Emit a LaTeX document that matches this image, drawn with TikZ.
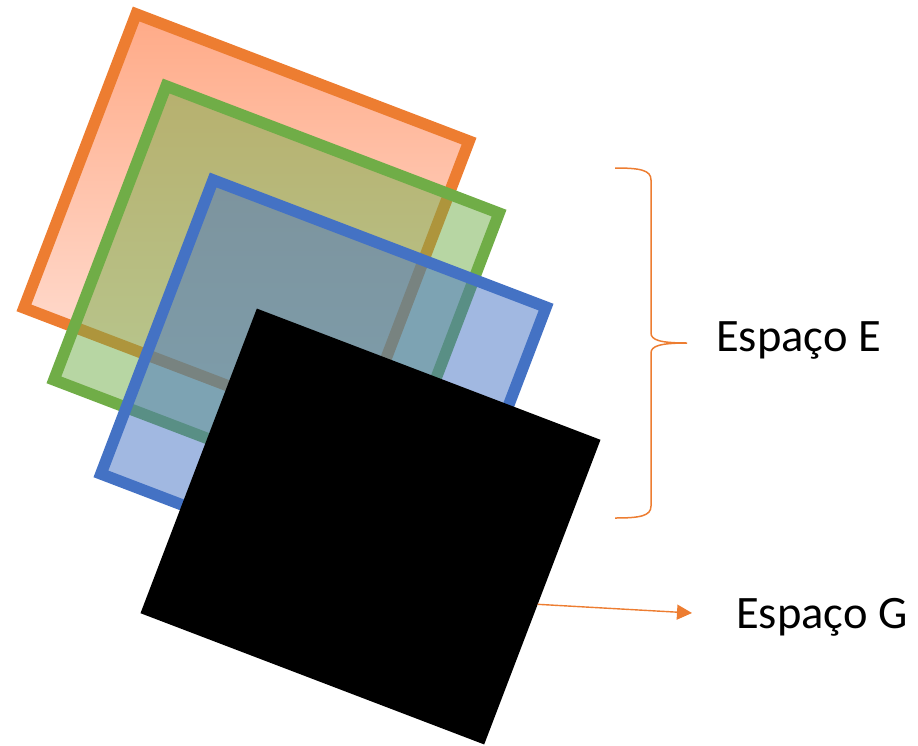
\documentclass[tikz,border=0pt]{standalone}
\usepackage{fontspec}
\setmainfont{Carlito}
\usetikzlibrary{arrows.meta,calc}

\definecolor{acOrange}{HTML}{ED7D31}
\definecolor{acGreen}{HTML}{70AD47}
\definecolor{acBlue}{HTML}{4472C4}
\definecolor{orFillTop}{RGB}{255,170,135}
\definecolor{orFillBot}{RGB}{255,232,225}

\begin{document}
\begin{tikzpicture}[x=1pt, y=-1pt,
  sheet/.style={rectangle, inner sep=0pt, outer sep=0.5\pgflinewidth,
    minimum width=356.4pt, minimum height=314.6pt,
    rotate=-20.9, line width=11.5pt, line join=miter},
  bracestroke/.style={draw=acOrange, line width=1.5pt},
  conn/.style={draw=acOrange, line width=1.4pt,
    -{Triangle[length=15pt, width=15pt]}},
  spacelabel/.style={anchor=base west, inner sep=0pt,
    font=\fontsize{46.5}{56}\selectfont}]
\useasboundingbox (0,0) rectangle (918,745);

% stacked sheets of space E, then the opaque sheet G on top
\node[sheet, draw=acOrange, top color=orFillTop, bottom color=orFillBot] (E1) at (246.5,224.5) {};
\node[sheet, draw=acGreen, fill=acGreen, fill opacity=0.5] (E2) at (276.5,296.5) {};
\node[sheet, draw=acBlue, fill=acBlue, fill opacity=0.5] (E3) at (323.5,390.5) {};
\node[sheet, draw=black, fill=black] (G) at (370.5,526.5) {};

% right brace grouping the three sheets
\coordinate (braceTop) at (615,168);
\coordinate (braceTip) at (687,343);
\coordinate (braceBot) at (615,518);
\draw[bracestroke] (braceTop)
  .. controls (640,168) and (651,170) .. (651,180) -- (651,333)
  .. controls (651,340) and (660,343) .. (braceTip)
  .. controls (660,343) and (651,346) .. (651,353) -- (651,506)
  .. controls (651,516) and (640,518) .. (braceBot);

\node[spacelabel] (lblE) at (716,351) {Espaço E};
\node[spacelabel] (lblG) at (736,628) {Espaço G};

% arrow from sheet G towards its label
\coordinate (gTip) at (692,613);
\draw[conn] ($(G.north east)!0.54!(G.south east)$) -- (gTip);
\end{tikzpicture}
\end{document}
